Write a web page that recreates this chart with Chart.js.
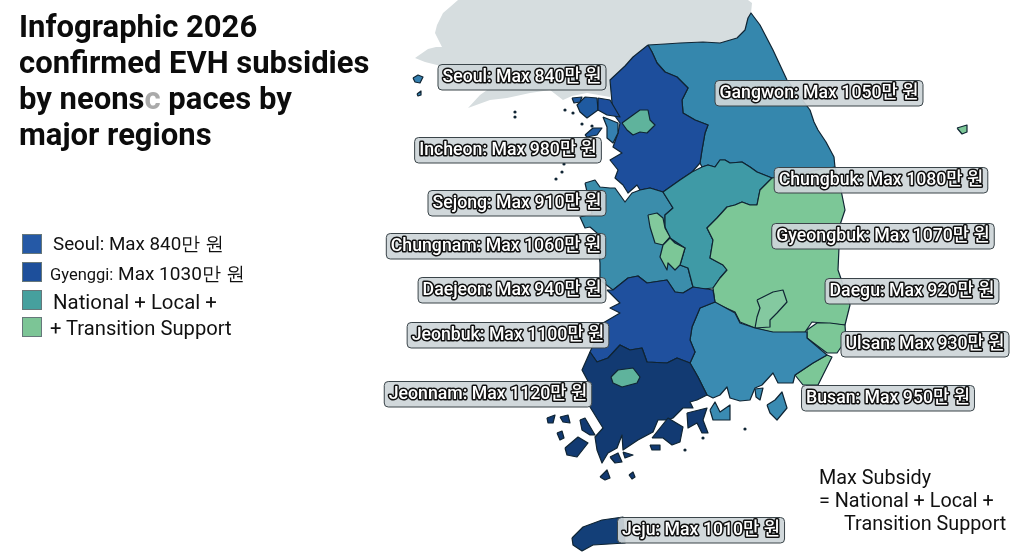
<!DOCTYPE html>
<html>
<head>
<meta charset="utf-8">
<script src="https://cdn.jsdelivr.net/npm/chart.js@4"></script>
<style>
  html, body { margin:0; padding:0; background:#fff; width:1024px; height:559px; overflow:hidden; font-family:Roboto, sans-serif; color:#111; }
  canvas { position:absolute; left:0; top:0; }
  .t { position:absolute; white-space:nowrap; line-height:1; }
  .title { font-size:31px; font-weight:700; left:19px; color:#0c0c0c; }
  .sw { position:absolute; left:22px; width:18px; height:18px; border:1px solid #66777a; }
</style>
</head>
<body>
<canvas id="map" width="1024" height="559"></canvas>

<div class="t title" style="top:11px">Infographic 2026</div>
<div class="t title" style="top:47px">confirmed EVH subsidies</div>
<div class="t title" style="top:83px">by neons<span style="color:#aaa">c</span> paces by</div>
<div class="t title" style="top:119px">major regions</div>

<div class="sw" style="top:234px;background:#2559a6"></div>
<div class="sw" style="top:262px;background:#1d4f9b"></div>
<div class="sw" style="top:290px;background:#46a09e"></div>
<div class="sw" style="top:317px;background:#7cc596"></div>
<div class="t" style="left:53px;top:235px;font-size:18.8px">Seoul: Max 840만 원</div>
<div class="t" style="left:50px;top:264px;font-size:19px"><span style="font-size:16.5px">Gyenggi:</span> Max 1030만 원</div>
<div class="t" style="left:53px;top:292px;font-size:20.4px">National + Local +</div>
<div class="t" style="left:50px;top:318px;font-size:20.2px">+ Transition Support</div>

<div class="t" style="left:819px;top:468px;font-size:19.8px">Max Subsidy</div>
<div class="t" style="left:819px;top:491px;font-size:19.8px">= National + Local +</div>
<div class="t" style="left:844px;top:514px;font-size:19.8px">Transition Support</div>

<script>
// label data
const labelNames = ['Seoul','Incheon','Gangwon','Chungbuk','Sejong','Chungnam','Gyeongbuk','Daejeon','Daegu','Jeonbuk','Ulsan','Jeonnam','Busan','Jeju'];
const maxSubsidy = [840,980,1050,1080,910,1060,1070,940,920,1100,930,1120,950,1010];
const labelX = [522,508,819,881,517,496,883,512,912,508,925,488,888,701];
const labelY = [77,150,93,180,203,246,236,290,291,335,344,394,398,530];

// outlines, in map units
const north = [[458,0],[450,7],[443,13],[437,25],[435,33],[442,47],[436,47],[428,49],[415,58],[425,62],[437,65],[470,78],[490,88],[480,95],[468,108],[490,100],[507,98],[530,93],[550,90],[563,100],[572,96],[587,93],[610,97],[612,80],[625,66],[633,57],[648,45],[680,43],[703,42],[720,43],[737,38],[745,30],[751,13],[752,3],[748,0],[458,0]];
const gangwon = [[648,45],[665,44],[680,43],[703,42],[720,43],[737,38],[745,30],[748,18],[751,13],[760,25],[773,50],[787,80],[810,110],[814,122],[818,130],[826,142],[834,157],[836,178],[772,178],[757,172],[750,167],[742,162],[730,163],[725,160],[720,160],[715,167],[708,165],[702,167],[700,163],[702,150],[705,133],[708,125],[695,120],[683,113],[682,100],[688,88],[677,77],[665,72],[657,63],[652,52],[648,45]];
const gyeonggi = [[648,45],[652,52],[657,63],[665,72],[677,77],[688,88],[682,100],[683,113],[695,120],[708,125],[705,133],[702,150],[700,163],[692,172],[680,180],[663,192],[650,188],[640,190],[637,185],[628,193],[623,185],[615,178],[618,170],[610,160],[622,153],[613,147],[618,133],[620,123],[612,112],[612,103],[610,80],[625,66],[633,57],[648,45]];
const seoulCity = [[622,123],[633,115],[640,110],[648,110],[650,120],[655,125],[647,133],[640,132],[633,135],[627,130],[622,123]];
const incheonA = [[585,97],[597,98],[598,110],[587,118],[580,112],[577,105],[585,97]];
const incheonB = [[598,98],[610,100],[620,117],[607,115],[598,110],[598,98]];
const incheonC = [[603,117],[618,123],[618,133],[613,143],[607,138],[607,127],[603,117]];
const islandA = [[572,98],[582,97],[580,102],[574,103],[572,98]];
const islandB = [[585,135],[593,128],[602,128],[597,135],[587,137],[585,135]];
const islandC = [[413,78],[418,75],[423,77],[420,83],[415,82],[413,78]];
const islandD = [[417,94],[421,91],[421,95],[418,96],[417,94]];
const chungnam = [[585,183],[595,180],[600,187],[610,188],[615,188],[625,202],[632,193],[640,190],[650,188],[663,192],[673,208],[665,215],[665,227],[670,238],[685,248],[680,265],[688,268],[693,287],[683,293],[675,292],[667,280],[647,283],[638,276],[628,278],[613,290],[600,280],[600,263],[597,233],[590,227],[585,228],[580,217],[592,214],[590,205],[585,183]];
const chungbuk = [[772,178],[757,172],[750,167],[742,162],[730,163],[725,160],[720,160],[715,167],[708,165],[702,167],[692,172],[680,180],[663,192],[673,208],[665,215],[665,227],[670,238],[685,248],[680,265],[688,268],[693,287],[703,289],[713,288],[720,278],[727,270],[723,265],[710,258],[713,240],[707,228],[717,218],[727,207],[735,205],[742,202],[750,205],[757,205],[760,190],[772,178]];
const sejong = [[648,215],[657,213],[663,218],[665,228],[670,237],[663,245],[655,243],[650,227],[648,215]];
const daejeon = [[670,238],[675,243],[685,248],[680,265],[675,270],[668,263],[667,270],[660,257],[663,245],[670,238]];
const gyeongbuk = [[772,178],[760,190],[757,205],[750,205],[742,202],[735,205],[727,207],[717,218],[707,228],[713,240],[710,258],[723,265],[727,270],[720,278],[713,288],[715,303],[735,312],[740,322],[755,328],[775,333],[805,332],[812,322],[845,325],[850,305],[838,270],[840,225],[845,210],[840,185],[835,167],[772,178]];
const daegu = [[757,300],[763,297],[773,292],[783,290],[787,302],[777,313],[770,320],[770,327],[755,328],[757,317],[760,308],[757,300]];
const ulsan = [[807,330],[817,323],[830,323],[845,325],[846,340],[837,353],[827,353],[807,338],[807,330]];
const busan = [[827,355],[832,357],[818,385],[803,385],[795,375],[813,363],[827,355]];
const gyeongnam = [[715,302],[700,308],[692,327],[690,340],[695,352],[690,363],[698,377],[707,395],[713,398],[720,395],[727,387],[730,398],[740,401],[750,400],[755,388],[762,385],[773,373],[778,383],[793,383],[795,375],[813,363],[827,355],[807,338],[807,332],[773,332],[755,328],[740,323],[735,313],[715,302]];
const namhae = [[710,410],[715,402],[720,412],[730,405],[730,420],[713,420],[710,410]];
const geoje = [[767,405],[775,400],[782,392],[787,408],[777,420],[770,413],[767,405]];
const tongyeong = [[755,389],[763,388],[760,400],[756,397],[755,389]];
const jeonbuk = [[607,290],[613,290],[628,278],[638,276],[647,283],[667,280],[675,292],[683,293],[693,287],[713,290],[715,302],[700,308],[692,327],[690,340],[695,352],[690,363],[677,358],[667,363],[647,362],[642,348],[630,350],[620,345],[608,358],[597,362],[590,352],[603,323],[620,313],[610,308],[620,303],[607,290]];
const jeonnam = [[590,352],[597,362],[608,358],[620,345],[630,350],[642,348],[647,362],[667,363],[677,358],[690,363],[698,377],[707,395],[697,400],[690,402],[693,408],[683,408],[673,418],[668,420],[658,420],[653,432],[638,440],[623,450],[622,435],[617,448],[608,453],[602,463],[597,450],[595,437],[603,428],[598,420],[590,407],[590,385],[582,370],[590,352]];
const gwangju = [[611,377],[618,370],[633,368],[640,377],[637,383],[622,387],[613,383],[611,377]];
const yeosu = [[687,413],[707,408],[703,420],[708,433],[702,433],[697,423],[688,428],[687,413]];
const goheung = [[652,438],[668,418],[683,427],[680,442],[672,445],[663,438],[652,438]];
const jindo = [[565,448],[578,437],[588,443],[577,457],[567,455],[565,448]];
const sinan = [[580,420],[585,418],[595,435],[590,435],[582,430],[580,420]];
const isleA = [[557,433],[562,431],[564,438],[560,440],[557,433]];
const isleB = [[547,418],[555,415],[553,423],[548,423],[547,418]];
const isleC = [[560,417],[568,415],[570,423],[563,422],[560,417]];
const isleD = [[610,457],[618,453],[622,462],[615,463],[610,457]];
const isleE = [[623,452],[633,455],[625,458],[623,452]];
const isleF = [[650,445],[660,445],[660,450],[652,450],[650,445]];
const isleG = [[600,477],[607,470],[610,478],[605,480],[600,477]];
const isleH = [[629,475],[633,472],[635,477],[632,479],[629,475]];
const jeju = [[572,538],[583,527],[602,520],[623,517],[625,543],[593,545],[582,551],[573,545],[572,538]];
const ulleung = [[957,128],[967,125],[967,132],[962,134],[957,128]];
const dots = [[515,112],[515,117],[565,110],[573,113],[582,124],[592,126],[564,164],[562,172],[556,179],[745,429],[703,438],[685,450]];

// [outline, fill colour], drawn in this order
const regions = [
  [north,'#d6dddf'],
  [gangwon,'#3587ad'],[gyeonggi,'#1d4e9c'],[seoulCity,'#5fb39c'],
  [incheonA,'#1f5aa0'],[incheonB,'#1d4e9c'],[incheonC,'#3580b0'],
  [islandA,'#1f5aa0'],[islandB,'#1f5aa0'],[islandC,'#3580b0'],[islandD,'#3580b0'],
  [chungnam,'#3b8dab'],[chungbuk,'#3f9aa6'],[sejong,'#82c99c'],[daejeon,'#7cc797'],
  [gyeongbuk,'#7cc797'],[daegu,'#84c9a0'],[ulsan,'#7cc797'],[busan,'#7cc797'],
  [gyeongnam,'#3a8bb2'],[namhae,'#3a8bb2'],[geoje,'#3a8bb2'],[tongyeong,'#3a8bb2'],
  [jeonbuk,'#1f509e'],[jeonnam,'#123a72'],[gwangju,'#5fb39c'],[yeosu,'#123a72'],[goheung,'#123a72'],
  [jindo,'#123a72'],[sinan,'#123a72'],[isleA,'#123a72'],[isleB,'#123a72'],[isleC,'#123a72'],
  [isleD,'#123a72'],[isleE,'#123a72'],[isleF,'#123a72'],[isleG,'#123a72'],[isleH,'#123a72'],
  [jeju,'#133f78'],[ulleung,'#7cc797']
];

const toPoints = list => list.map(p => ({x:p[0], y:p[1]}));

const datasets = regions.map((r, i) => ({
  data: toPoints(r[0]),
  showLine: true,
  fill: 'shape',
  backgroundColor: r[1],
  borderColor: i === 0 ? r[1] : '#0f2433',
  borderWidth: i === 0 ? 0 : 1.2,
  borderJoinStyle: 'round',
  pointRadius: 0,
  order: regions.length - i + 1
}));
// tiny rocks
datasets.push({ data: toPoints(dots), showLine:false, pointRadius:1.6, pointBackgroundColor:'#0f2433', pointBorderWidth:0, order:0 });

// pill labels sit on top of the map
const pillLabels = {
  id: 'pillLabels',
  afterDatasetsDraw(chart) {
    const {ctx, scales} = chart;
    ctx.save();
    ctx.font = '500 17.7px Roboto, "Noto Sans CJK KR", sans-serif';
    ctx.textAlign = 'center';
    ctx.textBaseline = 'middle';
    ctx.lineJoin = 'round';
    labelNames.forEach((name, i) => {
      const text = `${name}: Max ${maxSubsidy[i]}만 원`;
      const cx = scales.x.getPixelForValue(labelX[i]);
      const cy = scales.y.getPixelForValue(labelY[i]);
      const w = ctx.measureText(text).width + 9;
      ctx.beginPath();
      ctx.roundRect(cx - w/2, cy - 12.5, w, 25.5, 4);
      ctx.fillStyle = 'rgba(205,213,216,0.93)';
      ctx.fill();
      ctx.strokeStyle = '#3a4449';
      ctx.lineWidth = 1;
      ctx.stroke();
      ctx.strokeStyle = '#111';
      ctx.lineWidth = 3;
      ctx.strokeText(text, cx, cy + 1);
      ctx.fillStyle = '#fff';
      ctx.fillText(text, cx, cy + 1);
    });
    ctx.restore();
  }
};

new Chart(document.getElementById('map'), {
  type: 'scatter',
  data: { datasets },
  plugins: [pillLabels],
  options: {
    responsive: false,
    animation: false,
    layout: { padding: 0, autoPadding: false },
    scales: {
      x: { type:'linear', min:0, max:1024, display:false },
      y: { type:'linear', min:0, max:559, reverse:true, display:false }
    },
    plugins: { legend:{display:false}, tooltip:{enabled:false} }
  }
});
</script>
</body>
</html>
